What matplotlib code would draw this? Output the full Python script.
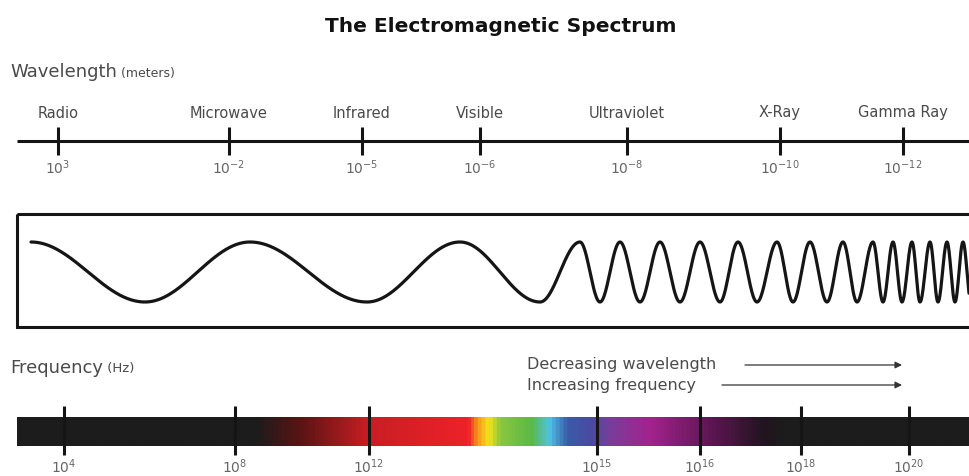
import numpy as np
import matplotlib.pyplot as plt
from matplotlib.colors import LinearSegmentedColormap
from matplotlib.patches import Rectangle

# wavelength scale (meters)
bands = ['Radio', 'Microwave', 'Infrared', 'Visible', 'Ultraviolet', 'X-Ray', 'Gamma Ray']
wave_exp = [3, -2, -5, -6, -8, -10, -12]
wave_tick_x = [58, 229, 362, 480, 627, 780, 903]

# frequency scale (Hz)
freq_exp = [4, 8, 12, 15, 16, 18, 20]
freq_tick_x = [64, 235, 369, 597, 700, 801, 909]

# crest / trough positions of the drawn wave
wave_extrema_x = [31, 145, 250, 367, 460, 540, 580, 600, 620, 640, 660, 680, 700,
                  720, 738, 757, 777, 793, 810, 827, 843, 857, 873, 883, 893, 902,
                  912, 920, 930, 938, 947, 955, 963, 971]

# colour stops of the spectrum bar (x in pixels, colour)
spec_x = [17, 255, 300, 367, 468, 478, 489, 500, 532, 550, 568, 592, 612, 650, 715, 765, 785, 969]
spec_c = ['#1c1c1c', '#1c1c1c', '#5a1414', '#c81e24', '#ee2229', '#f7941d', '#f3e61a',
          '#8cc63f', '#5bb947', '#4fc3e8', '#3b5aa8', '#4b4aa0', '#7a3d99', '#a3238e',
          '#5a1650', '#221420', '#1c1c1c', '#1c1c1c']

plt.rcParams['font.family'] = ['DejaVu Sans']
plt.rcParams['mathtext.fontset'] = 'dejavusans'

W, H = 969, 477
fig = plt.figure(figsize=(W / 100, H / 100), dpi=100)
ax = fig.add_axes([0, 0, 1, 1])
ax.set_xlim(0, W)
ax.set_ylim(H, 0)
ax.axis('off')

grey = '#4a4a4a'
dark = '#151515'

ax.text(501, 27, 'The Electromagnetic Spectrum', ha='center', va='center',
        fontsize=14.5, fontweight='bold', color='#111111')

# wavelength axis
t = ax.text(10, 72, 'Wavelength', ha='left', va='center', fontsize=13, color=grey)
ax.annotate(' (meters)', xy=(1, 0.42), xycoords=t, ha='left', va='center',
            fontsize=9, color=grey)
ax.plot([17, W], [142, 142], color=dark, lw=2.2, solid_capstyle='butt')
for x, name, e in zip(wave_tick_x, bands, wave_exp):
    ax.plot([x, x], [128, 156], color=dark, lw=2.2, solid_capstyle='butt')
    ax.text(x, 113, name, ha='center', va='center', fontsize=10.5, color=grey)
    ax.text(x, 168, r'$\mathregular{10^{%d}}$' % e, ha='center', va='center',
            fontsize=10, color='#666666')

# wave box
ax.add_patch(Rectangle((17, 215), W, 113, fill=False, ec=dark, lw=2.2))
phase = np.arange(len(wave_extrema_x)) * np.pi
xs = np.linspace(wave_extrema_x[0], W, 3000)
ys = 273 - 30 * np.cos(np.interp(xs, wave_extrema_x, phase))
ax.plot(xs, ys, color=dark, lw=2.3, solid_capstyle='round')

# frequency axis
t = ax.text(10, 368, 'Frequency', ha='left', va='center', fontsize=13, color=grey)
ax.annotate(' (Hz)', xy=(1, 0.45), xycoords=t, ha='left', va='center',
            fontsize=9.5, color=grey)

ax.text(527, 365, 'Decreasing wavelength', ha='left', va='center', fontsize=11.5, color=grey)
ax.text(527, 386, 'Increasing frequency', ha='left', va='center', fontsize=11.5, color=grey)
for x0, y0 in [(745, 366), (722, 386)]:
    ax.annotate('', xy=(902, y0), xytext=(x0, y0),
                arrowprops=dict(arrowstyle='-|>', lw=0.9, color='#333333',
                                mutation_scale=10, shrinkA=0, shrinkB=0))

pos = [(x - spec_x[0]) / (spec_x[-1] - spec_x[0]) for x in spec_x]
cmap = LinearSegmentedColormap.from_list('spec', list(zip(pos, spec_c)))
grad = np.linspace(0, 1, 1000)[None, :]
ax.imshow(grad, cmap=cmap, aspect='auto', extent=(spec_x[0], spec_x[-1], 447, 418),
          interpolation='bilinear', zorder=1)
ax.set_xlim(0, W)
ax.set_ylim(H, 0)
for x, e in zip(freq_tick_x, freq_exp):
    ax.plot([x, x], [407, 456], color=dark, lw=2.2, solid_capstyle='butt', zorder=2)
    ax.text(x, 467, r'$\mathregular{10^{%d}}$' % e, ha='center', va='center',
            fontsize=10, color='#666666')

fig.savefig('out.png', dpi=100, facecolor='white')
